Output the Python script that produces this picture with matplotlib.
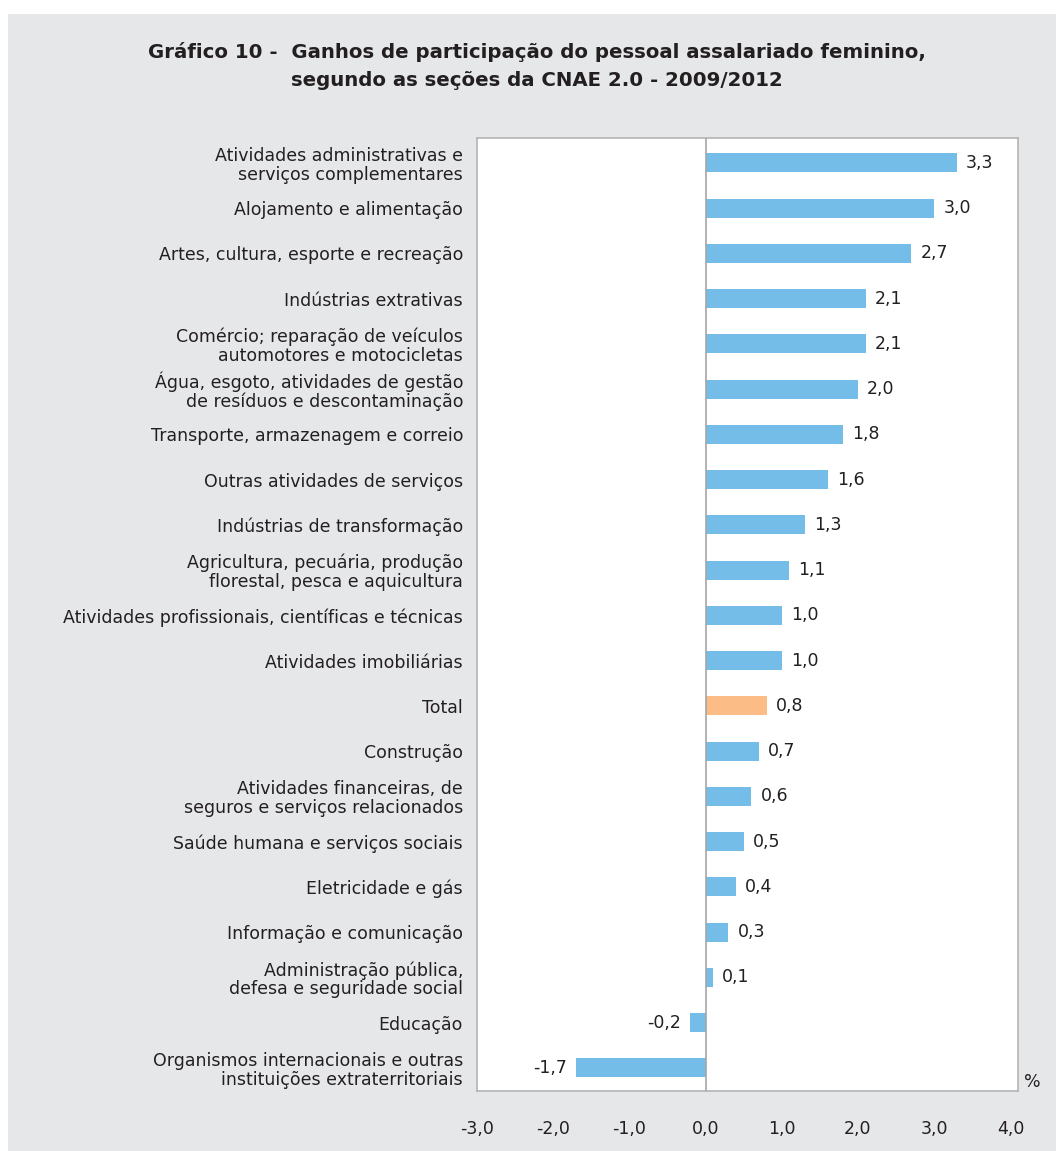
import matplotlib.pyplot as plt

plt.rcParams['font.family'] = ['DejaVu Sans']

secoes = [
    'Atividades administrativas e\nserviços complementares',
    'Alojamento e alimentação',
    'Artes, cultura, esporte e recreação',
    'Indústrias extrativas',
    'Comércio; reparação de veículos\nautomotores e motocicletas',
    'Água, esgoto, atividades de gestão\nde resíduos e descontaminação',
    'Transporte, armazenagem e correio',
    'Outras atividades de serviços',
    'Indústrias de transformação',
    'Agricultura, pecuária, produção\nflorestal, pesca e aquicultura',
    'Atividades profissionais, científicas e técnicas',
    'Atividades imobiliárias',
    'Total',
    'Construção',
    'Atividades financeiras, de\nseguros e serviços relacionados',
    'Saúde humana e serviços sociais',
    'Eletricidade e gás',
    'Informação e comunicação',
    'Administração pública,\ndefesa e seguridade social',
    'Educação',
    'Organismos internacionais e outras\ninstituições extraterritoriais',
]
ganhos = [3.3, 3.0, 2.7, 2.1, 2.1, 2.0, 1.8, 1.6, 1.3, 1.1, 1.0,
          1.0, 0.8, 0.7, 0.6, 0.5, 0.4, 0.3, 0.1, -0.2, -1.7]
ticks_x = [-3, -2, -1, 0, 1, 2, 3, 4]

azul = '#74bde8'
laranja = '#fbbc85'
fundo = '#e6e7e9'
texto = '#231f20'

W, H = 1056, 1151
fig = plt.figure(figsize=(W / 100, H / 100), dpi=100)
fig.patch.set_facecolor('white')

# faixa cinza de fundo
fig.add_artist(plt.Rectangle((8 / W, 0), 1 - 8 / W, 1 - 14 / H,
                             transform=fig.transFigure, facecolor=fundo,
                             edgecolor='none', zorder=0))

left, right, top, bottom = 477, 1018, 138, 1091
ax = fig.add_axes([left / W, 1 - bottom / H, (right - left) / W, (bottom - top) / H])
ax.set_facecolor('white')

y = list(range(len(secoes)))
cores = [laranja if s == 'Total' else azul for s in secoes]
ax.barh(y, ganhos, height=0.42, color=cores, zorder=2)
ax.axvline(0, color='#a6a6a6', lw=1.2, zorder=3)

for yi, v in zip(y, ganhos):
    txt = f'{v:.1f}'.replace('.', ',')
    if v >= 0:
        ax.text(v + 0.12, yi, txt, ha='left', va='center', fontsize=12.5, color=texto)
    else:
        ax.text(v - 0.12, yi, txt, ha='right', va='center', fontsize=12.5, color=texto)

ax.set_xlim(-2.92, 4.1)
ax.set_ylim(len(secoes) - 0.49, -0.55)
ax.set_yticks(y)
ax.set_yticklabels(secoes, fontsize=12.5, color=texto, linespacing=1.05)
ax.tick_params(axis='y', length=0, pad=10)
ax.set_xticks(ticks_x)
ax.set_xticklabels([f'{t:.1f}'.replace('.', ',') for t in ticks_x], fontsize=12.5, color=texto)
ax.tick_params(axis='x', length=0, pad=21)
for sp in ax.spines.values():
    sp.set_color('#b4b4b4')
    sp.set_linewidth(1.2)

fig.text(1032 / W, 1 - 1082 / H, '%', ha='center', va='center', fontsize=12.5, color=texto)

fig.text(537 / W, 1 - 52 / H, 'Gráfico 10 -  Ganhos de participação do pessoal assalariado feminino,',
         ha='center', va='center', fontsize=14.2, fontweight='bold', color=texto)
fig.text(537 / W, 1 - 80 / H, 'segundo as seções da CNAE 2.0 - 2009/2012',
         ha='center', va='center', fontsize=14.2, fontweight='bold', color=texto)

fig.savefig('out.png', dpi=100, facecolor=fig.get_facecolor())
